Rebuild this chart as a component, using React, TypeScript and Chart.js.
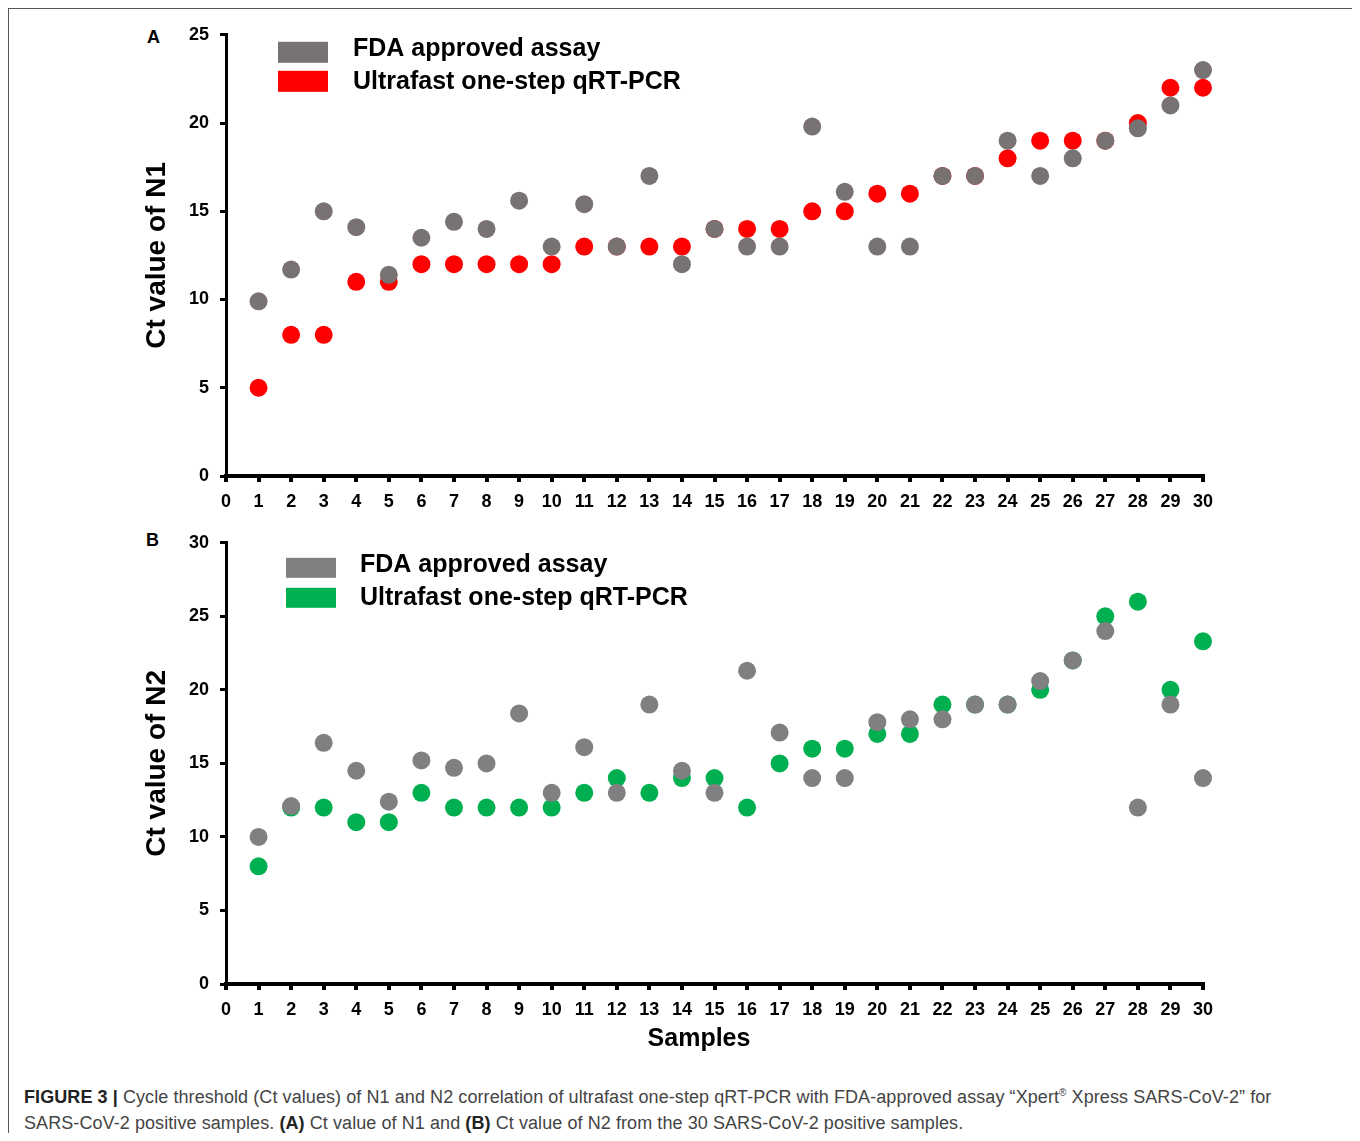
import React, { useEffect, useRef } from 'react';
import { Chart, registerables } from 'chart.js';

Chart.register(...registerables);

// ---------- data ----------
const samples = [1, 2, 3, 4, 5, 6, 7, 8, 9, 10, 11, 12, 13, 14, 15, 16, 17, 18, 19, 20, 21, 22, 23, 24, 25, 26, 27, 28, 29, 30];
const xTickValues = [0, 1, 2, 3, 4, 5, 6, 7, 8, 9, 10, 11, 12, 13, 14, 15, 16, 17, 18, 19, 20, 21, 22, 23, 24, 25, 26, 27, 28, 29, 30];
const n1TickValues = [0, 5, 10, 15, 20, 25];
const n2TickValues = [0, 5, 10, 15, 20, 25, 30];
const seriesLabels = ['FDA approved assay', 'Ultrafast one-step qRT-PCR'];

const n1FDA = [9.9, 11.7, 15, 14.1, 11.4, 13.5, 14.4, 14, 15.6, 13, 15.4, 13, 17, 12, 14, 13, 13, 19.8, 16.1, 13, 13, 17, 17, 19, 17, 18, 19, 19.7, 21, 23];
const n1Ultrafast = [5, 8, 8, 11, 11, 12, 12, 12, 12, 12, 13, 13, 13, 13, 14, 14, 14, 15, 15, 16, 16, 17, 17, 18, 19, 19, 19, 20, 22, 22];
const n2FDA = [10, 12.1, 16.4, 14.5, 12.4, 15.2, 14.7, 15, 18.4, 13, 16.1, 13, 19, 14.5, 13, 21.3, 17.1, 14, 14, 17.8, 18, 18, 19, 19, 20.6, 22, 24, 12, 19, 14];
const n2Ultrafast = [8, 12, 12, 11, 11, 13, 12, 12, 12, 12, 13, 14, 13, 14, 14, 12, 15, 16, 16, 17, 17, 19, 19, 19, 20, 22, 25, 26, 20, 23.3];

const FONT = '"Liberation Sans", Arial, Helvetica, sans-serif';

const insideLegend = {
  id: 'insideLegend',
  afterDraw(chart: any, _args: any, opts: any) {
    const { ctx, chartArea } = chart;
    ctx.save();
    chart.data.datasets.forEach((ds: any, i: number) => {
      const x = chartArea.left + opts.dx;
      const y = chartArea.top + opts.boxDy[i];
      ctx.fillStyle = ds.backgroundColor;
      ctx.fillRect(x, y, opts.boxW, opts.boxH);
      ctx.fillStyle = '#000';
      ctx.font = `bold ${opts.fontSize}px ${FONT}`;
      ctx.textBaseline = 'middle';
      ctx.textAlign = 'left';
      ctx.fillText(ds.label, x + opts.textDx, chartArea.top + opts.textDy[i]);
    });
    ctx.restore();
  },
};

type PanelProps = {
  fda: number[];
  ultra: number[];
  fdaColor: string;
  ultraColor: string;
  yTicks: number[];
  yTitle: string;
  width: number;
  height: number;
  padRight: number;
  yAxisWidth: number;
  xAxisHeight: number;
  legend: any;
  style: React.CSSProperties;
};

function ScatterPanel(p: PanelProps) {
  const ref = useRef<HTMLCanvasElement | null>(null);
  useEffect(() => {
    if (!ref.current) return;
    const chart = new Chart(ref.current, {
      type: 'scatter',
      data: {
        datasets: [
          {
            label: seriesLabels[0],
            data: samples.map((s, i) => ({ x: s, y: p.fda[i] })),
            backgroundColor: p.fdaColor,
            borderColor: p.fdaColor,
            borderWidth: 0,
            pointRadius: 9,
            pointHoverRadius: 9,
            clip: false,
          },
          {
            label: seriesLabels[1],
            data: samples.map((s, i) => ({ x: s, y: p.ultra[i] })),
            backgroundColor: p.ultraColor,
            borderColor: p.ultraColor,
            borderWidth: 0,
            pointRadius: 9,
            pointHoverRadius: 9,
            clip: false,
          },
        ],
      },
      options: {
        animation: false,
        responsive: false,
        devicePixelRatio: 1,
        layout: { padding: { top: 0, right: p.padRight, left: 0, bottom: 0 } },
        plugins: {
          legend: { display: false },
          tooltip: { enabled: false },
          insideLegend: p.legend,
        } as any,
        scales: {
          x: {
            type: 'linear',
            min: 0,
            max: 30,
            afterBuildTicks: (scale: any) => {
              scale.ticks = xTickValues.map((v) => ({ value: v }));
            },
            afterFit: (scale: any) => {
              scale.height = p.xAxisHeight;
            },
            grid: { display: true, drawOnChartArea: false, drawTicks: true, tickLength: 6, lineWidth: 4, color: '#000' },
            border: { display: true, color: '#000', width: 4 },
            ticks: {
              autoSkip: false,
              maxRotation: 0,
              padding: 9,
              color: '#000',
              font: { family: FONT, size: 18, weight: 'bold' },
            },
          },
          y: {
            type: 'linear',
            min: p.yTicks[0],
            max: p.yTicks[p.yTicks.length - 1],
            afterBuildTicks: (scale: any) => {
              scale.ticks = p.yTicks.map((v) => ({ value: v }));
            },
            afterFit: (scale: any) => {
              scale.width = p.yAxisWidth;
            },
            grid: { display: true, drawOnChartArea: false, drawTicks: true, tickLength: 6, lineWidth: 3, color: '#000' },
            border: { display: true, color: '#000', width: 3 },
            ticks: {
              padding: 11,
              color: '#000',
              font: { family: FONT, size: 18, weight: 'bold' },
            },
            title: {
              display: true,
              text: p.yTitle,
              color: '#000',
              font: { family: FONT, size: 28, weight: 'bold' },
              padding: { top: 30, bottom: 0 },
            },
          },
        },
      } as any,
      plugins: [insideLegend as any],
    });
    return () => chart.destroy();
  }, []);
  return <canvas ref={ref} width={p.width} height={p.height} style={{ position: 'absolute', width: p.width, height: p.height, ...p.style }} />;
}

export default function App() {
  useEffect(() => {
    document.documentElement.style.overflow = 'hidden';
    document.body.style.overflow = 'hidden';
  }, []);
  return (
    <div style={{ position: 'relative', width: 1349, height: 1125, fontFamily: FONT }}>
      <div
        style={{
          position: 'absolute',
          left: 0,
          top: 0,
          width: 1347,
          height: 1200,
          border: '1px solid #555',
          boxSizing: 'content-box',
        }}
      />
      <div style={{ position: 'absolute', left: 139, top: 18.5, font: `bold 18px ${FONT}`, lineHeight: '20px', color: '#000' }}>A</div>
      <div style={{ position: 'absolute', left: 138, top: 522, font: `bold 18px ${FONT}`, lineHeight: '20px', color: '#000' }}>B</div>
      <ScatterPanel
        fda={n1FDA}
        ultra={n1Ultrafast}
        fdaColor="#787272"
        ultraColor="#ff0000"
        yTicks={n1TickValues}
        yTitle="Ct value of N1"
        width={1130}
        height={512}
        padRight={37}
        yAxisWidth={116}
        xAxisHeight={49}
        legend={{ dx: 52, boxDy: [7, 36], boxW: 50, boxH: 21, textDx: 75, textDy: [14, 47], fontSize: 25 }}
        style={{ left: 102, top: 5 }}
      />
      <ScatterPanel
        fda={n2FDA}
        ultra={n2Ultrafast}
        fdaColor="#808080"
        ultraColor="#00b050"
        yTicks={n2TickValues}
        yTitle="Ct value of N2"
        width={1130}
        height={549}
        padRight={37}
        yAxisWidth={116}
        xAxisHeight={86}
        legend={{ dx: 60, boxDy: [15, 45], boxW: 50, boxH: 20, textDx: 74, textDy: [22, 55], fontSize: 25 }}
        style={{ left: 102, top: 513 }}
      />
      <div
        style={{
          position: 'absolute',
          left: 699 - 8 - 100,
          width: 200,
          top: 1037 - 8 - 15,
          textAlign: 'center',
          font: `bold 25px ${FONT}`,
          lineHeight: '30px',
          color: '#000',
        }}
      >
        Samples
      </div>
      <div
        style={{
          position: 'absolute',
          left: 16,
          top: 1072,
          fontFamily: FONT,
          fontSize: 18,
          lineHeight: '26px',
          letterSpacing: '0.08px',
          color: '#444',
          whiteSpace: 'nowrap',
        }}
      >
        <div>
          <b style={{ color: '#222' }}>FIGURE 3 |</b> Cycle threshold (Ct values) of N1 and N2 correlation of ultrafast one-step qRT-PCR with FDA-approved assay “Xpert<sup style={{ fontSize: 10 }}>®</sup> Xpress SARS-CoV-2” for
        </div>
        <div>
          SARS-CoV-2 positive samples. <b style={{ color: '#222' }}>(A)</b> Ct value of N1 and <b style={{ color: '#222' }}>(B)</b> Ct value of N2 from the 30 SARS-CoV-2 positive samples.
        </div>
      </div>
    </div>
  );
}
